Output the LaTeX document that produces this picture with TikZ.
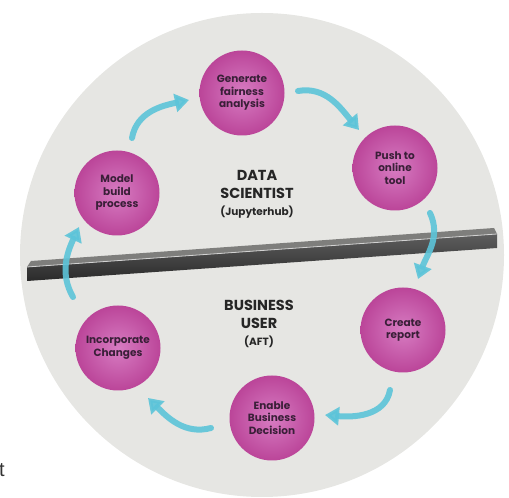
\documentclass[tikz,border=0pt]{standalone}
\usepackage{fontspec}
\setmainfont{Poppins}
\newfontfamily\tfont{Liberation Sans}
\usetikzlibrary{arrows.meta}
\definecolor{bgc}{HTML}{E6E6E3}
\definecolor{pinkL}{HTML}{D77CC2}
\definecolor{pinkD}{HTML}{BB4599}
\definecolor{txtc}{HTML}{3A1F38}
\definecolor{arrc}{HTML}{5CC4D9}
\definecolor{barT}{HTML}{7E7E7C}
\definecolor{barF1}{HTML}{5E5E5E}
\definecolor{barF2}{HTML}{2A2A2A}
\tikzset{
  ball/.style={circle, minimum size=85pt, inner sep=0pt, inner color=pinkL, outer color=pinkD,
    font=\bfseries\fontsize{10.5}{12.5}\selectfont, text=txtc, align=center},
  role/.style={align=center, text=black!85, font=\bfseries\fontsize{14.5}{18}\selectfont},
  sub/.style={text=black!85, font=\bfseries\fontsize{10.5}{12}\selectfont},
  flow/.style={draw=arrc, line width=6pt, line cap=round, opacity=0.9,
    -{Triangle[width=18pt,length=14pt]}}
}
\begin{document}
\begin{tikzpicture}[x=1pt,y=1pt]
\useasboundingbox (0,0) rectangle (509,498);
\fill[bgc] (262,243) circle (242);
% bar
\shade[top color=barF1, bottom color=barF2] (27,231) -- (497,264) -- (497,250) -- (27,217) -- cycle;
\fill[barT] (27,231) -- (31,237) -- (494,270) -- (497,264) -- cycle;
\draw[white!65!gray, line width=0.8pt] (27,231) -- (497,264);
% balls
\node[ball] (gen) at (242,405) {Generate\\fairness\\analysis};
\node[ball] (push) at (395,330) {Push to\\online\\tool};
\node[ball] (model) at (117,305) {Model\\build\\process};
\node[ball] (create) at (403,168) {Create\\report};
\node[ball] (incorp) at (118,150) {Incorporate\\Changes};
\node[ball] (enable) at (272,80) {Enable\\Business\\Decision};
% roles
\node[role] (ds) at (257,314) {DATA\\SCIENTIST};
\node[sub] (jh) at (257,286) {(Jupyterhub)};
\node[role] (bu) at (259,184) {BUSINESS\\USER};
\node[sub] (aft) at (259,156) {(AFT)};
% arrow ends
\coordinate (a1s) at (132,360); \coordinate (a1e) at (189,398);
\coordinate (a2s) at (298,407); \coordinate (a2e) at (359,368);
\coordinate (a3s) at (430,285); \coordinate (a3e) at (418,219);
\coordinate (a4s) at (390,108); \coordinate (a4e) at (325,83);
\coordinate (a5s) at (211,70);  \coordinate (a5e) at (148,100);
\coordinate (a6s) at (73,201);  \coordinate (a6e) at (79,271);
\draw[flow] (a1s) to[out=80,in=192] (a1e);
\draw[flow] (a2s) to[out=10,in=130] (a2e);
\draw[flow] (a3s) to[out=-65,in=70] (a3e);
\draw[flow] (a4s) to[out=-100,in=-5] (a4e);
\draw[flow] (a5s) to[out=195,in=-45] (a5e);
\draw[flow] (a6s) to[out=120,in=-115] (a6e);
% stray letter
\node[anchor=base west, inner sep=0pt, text=black!80, font=\tfont\fontsize{20}{24}\selectfont] (st) at (-1,21) {t};
\end{tikzpicture}
\end{document}
